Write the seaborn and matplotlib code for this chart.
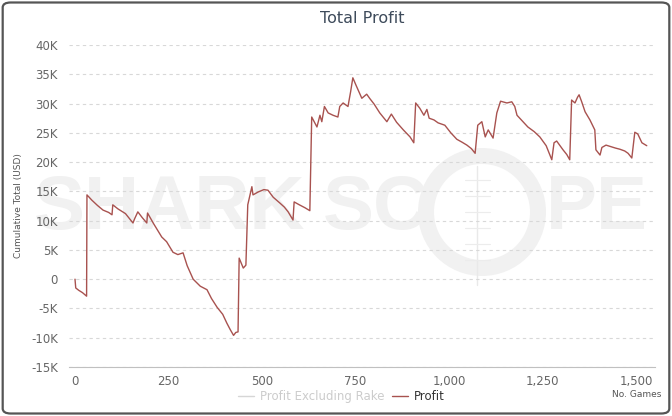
import pandas as pd
import matplotlib.pyplot as plt
import seaborn as sns
from matplotlib.lines import Line2D
from matplotlib.patches import FancyBboxPatch, Ellipse

# Cumulative profit (game number, USD)
games = [0, 2, 10, 20, 31, 32, 45, 60, 75, 90, 99, 101, 115, 135, 155, 160, 168, 180, 192, 194,
         210, 232, 245, 262, 275, 289, 300, 316, 335, 353, 365, 380, 395, 406, 415, 424, 430, 436,
         439, 450, 457, 462, 473, 476, 490, 505, 516, 530, 548, 560, 570, 583, 586, 600, 615, 628,
         633, 647, 655, 660, 667, 677, 690, 703, 708, 717, 730, 737, 743, 751, 767, 780, 789, 800,
         815, 834, 846, 860, 878, 896, 906, 911, 922, 933, 941, 947, 960, 971, 989, 1005, 1021,
         1035, 1048, 1060, 1070, 1077, 1088, 1097, 1105, 1118, 1128, 1138, 1155, 1168, 1176, 1182,
         1195, 1211, 1228, 1243, 1260, 1275, 1281, 1288, 1305, 1315, 1323, 1328, 1337, 1344, 1348,
         1355, 1364, 1377, 1390, 1393, 1404, 1409, 1420, 1430, 1445, 1457, 1470, 1479, 1489, 1497,
         1505, 1516, 1529]
profit = [0, -1500, -1900, -2300, -2900, 14400, 13500, 12600, 11800, 11400, 11000, 12700, 12000,
          11200, 9600, 10400, 11500, 10500, 9600, 11300, 9500, 7200, 6400, 4600, 4200, 4500, 2300,
          0, -1200, -1800, -3300, -4800, -6000, -7500, -8600, -9600, -9100, -9000, 3600, 1900, 2400,
          12700, 15800, 14400, 14900, 15300, 15200, 14000, 13000, 12300, 11500, 10100, 13200, 12700,
          12200, 11700, 27700, 26000, 28000, 26900, 29500, 28400, 28000, 27700, 29500, 30100, 29500,
          32000, 34400, 33200, 30900, 31600, 30800, 29900, 28400, 26900, 28200, 26800, 25500, 24300,
          23300, 30100, 29200, 28000, 29000, 27500, 27200, 26700, 26300, 25000, 23900, 23400, 22900,
          22300, 21500, 26300, 26900, 24300, 25500, 24100, 28400, 30400, 30100, 30300, 29500, 28000,
          27100, 26000, 25200, 24300, 22800, 20400, 23300, 23600, 22100, 21300, 20400, 30600, 30100,
          31100, 31500, 30300, 28600, 27200, 25500, 22100, 21200, 22500, 22900, 22700, 22400, 22200,
          21900, 21500, 20700, 25100, 24800, 23300, 22800]

x_ticks = [0, 250, 500, 750, 1000, 1250, 1500]
y_ticks = [-15000, -10000, -5000, 0, 5000, 10000, 15000, 20000, 25000, 30000, 35000, 40000]

df = pd.DataFrame({'game': games, 'profit': profit})

sns.set_style('white')
plt.rcParams['font.family'] = ['DejaVu Sans']

W, H = 672, 416
fig = plt.figure(figsize=(W / 100, H / 100), dpi=100)
ax = fig.add_axes([0.1027, 0.1178, 0.872, 0.774])
ax.patch.set_alpha(0)

# rounded frame around the whole chart
fig.patches.append(FancyBboxPatch((0.004, 0.006), 0.992, 0.988,
                                  boxstyle='round,pad=0,rounding_size=0.012',
                                  transform=fig.transFigure, fill=False,
                                  edgecolor='#555555', linewidth=1.6))

# SharkScope watermark, drawn under the data
wm = '#f1f1f1'
ft = fig.transFigure
for x0, word in [(34, 'SHARK'), (323, 'SC'), (546, 'PE')]:
    ax.text(x0 / W, 0.497, word, transform=ft, fontsize=55, fontweight='bold',
            family='Liberation Sans', color=wm, va='center', ha='left',
            zorder=0.1, clip_on=False)
ax.add_patch(Ellipse((482 / W, 1 - 212 / H), 112 / W, 112 / H, transform=ft, fill=False,
                     edgecolor=wm, linewidth=11.5, zorder=0.1, clip_on=False))
ax.add_line(Line2D([477 / W, 477 / W], [1 - 166 / H, 1 - 285 / H], transform=ft,
                   color='#e9e9e9', linewidth=1.0, zorder=0.1, clip_on=False))
for yy in [180, 196, 212, 228, 244, 260]:
    ax.add_line(Line2D([465 / W, 490 / W], [1 - yy / H, 1 - yy / H], transform=ft,
                       color='#ececec', linewidth=0.8, zorder=0.1, clip_on=False))

sns.lineplot(data=df, x='game', y='profit', color='#a8524f', linewidth=1.0, ax=ax, zorder=3)

ax.set_xlim(-16, 1551)
ax.set_ylim(-15000, 40000)
ax.set_xticks(x_ticks)
ax.set_xticklabels([f'{t:,}' for t in x_ticks])
ax.set_yticks(y_ticks)
ax.set_yticklabels(['0' if t == 0 else f'{t // 1000}K' for t in y_ticks])
ax.tick_params(axis='x', colors='#c0c0c0', labelcolor='#666666', labelsize=8.5,
               length=4, direction='out', pad=2)
ax.tick_params(axis='y', length=0, labelcolor='#666666', labelsize=8.5, pad=8)
ax.grid(axis='y', linestyle=(0, (3, 3)), color='#d8d8d8', linewidth=0.8)
ax.grid(axis='x', visible=False)
for s in ['top', 'right', 'left']:
    ax.spines[s].set_visible(False)
ax.spines['bottom'].set_color('#c0c0c0')
ax.set_xlabel('')
ax.set_ylabel('Cumulative Total (USD)', fontsize=6.5, color='#555555', labelpad=6)

ax.set_title('Total Profit', fontsize=11.5, color='#3e4b5b', pad=16)

fig.text(0.947, 0.052, 'No. Games', fontsize=6.5, color='#555555', ha='center', va='center')

handles = [Line2D([], [], color='#d6d6d6', linewidth=1),
           Line2D([], [], color='#a8524f', linewidth=1)]
leg = fig.legend(handles, ['Profit Excluding Rake', 'Profit'], loc='center',
                 bbox_to_anchor=(0.508, 0.047), ncol=2, frameon=False, fontsize=8.5,
                 handlelength=1.4, handletextpad=0.5, columnspacing=0.6)
leg.get_texts()[0].set_color('#cccccc')
leg.get_texts()[1].set_color('#333333')

fig.savefig('out.png', dpi=100)
